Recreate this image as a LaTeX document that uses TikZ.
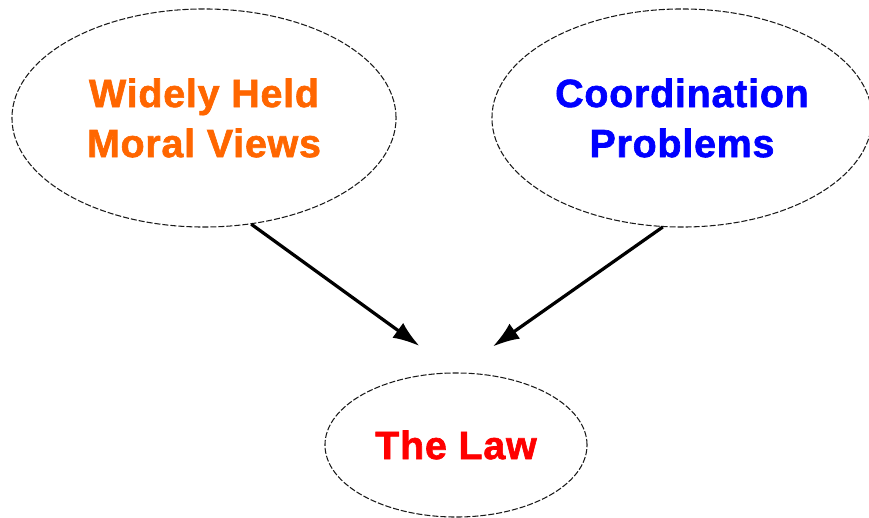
\documentclass[tikz,border=0pt]{standalone}
\usepackage{fontspec}
\setsansfont{Liberation Sans}[BoldFeatures={FakeBold=1.6,LetterSpace=2}]
\usepackage{tikz}
\usetikzlibrary{shapes.geometric,arrows.meta}
\definecolor{moralorange}{RGB}{255,102,0}
\definecolor{coordblue}{RGB}{0,0,255}
\definecolor{lawred}{RGB}{255,0,0}

\begin{document}
\begin{tikzpicture}[x=0.025cm,y=-0.025cm]
  \useasboundingbox (0,0) rectangle (869,518);
  \begin{scope}[every node/.style={ellipse,draw=black!90,line width=0.75pt,dash pattern=on 4.3pt off 1.4pt,
      inner sep=0pt,align=center,font=\sffamily\bfseries\fontsize{28}{35.6}\selectfont}]
  \node[minimum width=9.6cm,minimum height=5.45cm,text=moralorange] (moral) at (204,118)
       {Widely Held\\Moral Views};
  \node[minimum width=9.5cm,minimum height=5.45cm,text=coordblue] (coord) at (682,118)
       {Coordination\\Problems};
  \node[minimum width=6.55cm,minimum height=3.6cm,text=lawred] (law) at (456,445)
       {The Law};
  \end{scope}
  \begin{scope}[every path/.style={line width=2.3pt,-{Latex[length=19pt,width=13pt]},shorten >=32pt}]
  \draw (moral.-66) -- (law.north);
  \draw (coord.-100) -- (law.north);
  \end{scope}
\end{tikzpicture}
\end{document}
